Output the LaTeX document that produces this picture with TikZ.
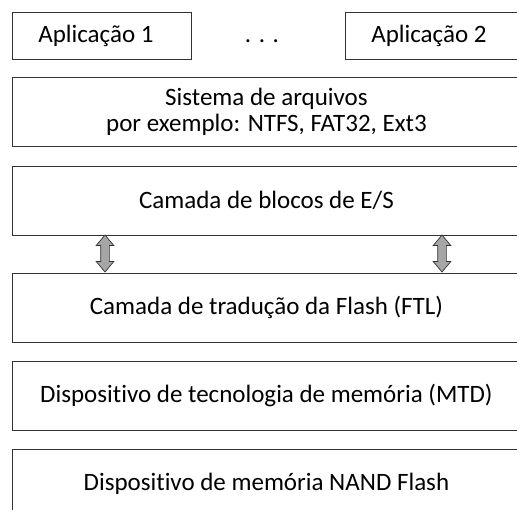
\documentclass[tikz,border=0pt]{standalone}
\usepackage{fontspec}
\setmainfont{Carlito}[Ligatures={NoCommon,NoContextual}]
\usetikzlibrary{positioning, shapes.arrows}

\begin{document}
\begin{tikzpicture}[x=1pt, y=1pt, node distance=18pt,
    layer/.style = {draw=black!80, line width=0.9pt, minimum width=508pt, minimum height=69pt, anchor=north west, align=center, font=\fontsize{25}{26}\selectfont},
    app/.style = {layer, minimum width=179pt, minimum height=47pt},
    io/.style = {double arrow, draw=black!80, line width=0.7pt, fill=gray!70, inner sep=4pt, double arrow head extend=4.5pt, double arrow tip angle=80, minimum height=37pt, rotate=90}]
    \useasboundingbox (0,0) rectangle (517,-510);
    \clip (0,0) rectangle (517,-510);

    % applications on top
    \node[app] (app1) at (12,-12) {Aplicação 1\hspace{12pt}};
    \node[app] (app2) at (345,-12) {Aplicação 2\hspace{12pt}};
    \node[font=\fontsize{25}{26}\selectfont] (dots) at (262,-41) {. . .};

    % the layer stack
    \node[layer] (fs) at (12,-77) {Sistema de arquivos\\por exemplo: NTFS, FAT32, Ext3};
    \node[layer] (blk) [below=19pt of fs] {Camada de blocos de E/S};
    \node[layer] (ftl) [below=37pt of blk] {Camada de tradução da Flash (FTL)};
    \node[layer] (mtd) [below=of ftl] {Dispositivo de tecnologia de memória (MTD)};
    \node[layer] (nand) [below=of mtd] {Dispositivo de memória NAND Flash};

    % block I/O <-> FTL
    \node[io] (io1) at (105,-253.5) {};
    \node[io] (io2) at (442,-253.5) {};
\end{tikzpicture}
\end{document}
